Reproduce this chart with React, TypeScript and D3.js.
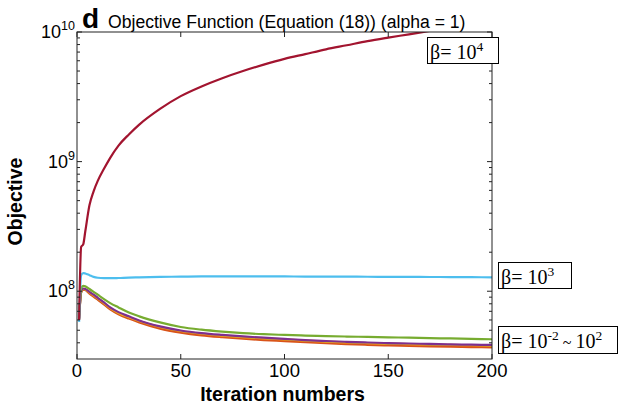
import React from "react";
import * as d3 from "d3";

const iterations = [1, 2, 3, 4, 6, 8, 10, 13, 16, 20, 25, 30, 40, 50, 60, 70, 80, 90, 100, 110, 120, 130, 140, 150, 160, 170, 180, 190, 200];

const betaM2 = [6.1e7, 9.85e7, 1.035e8, 1.025e8, 9.7e7, 9.2e7, 8.7e7, 8.0e7, 7.35e7, 6.75e7, 6.25e7, 5.85e7, 5.25e7, 4.88e7, 4.65e7, 4.5e7, 4.38e7, 4.28e7, 4.2e7, 4.12e7, 4.05e7, 3.99e7, 3.94e7, 3.9e7, 3.87e7, 3.84e7, 3.81e7, 3.79e7, 3.77e7];
const betaM1 = [6.0e7, 9.8e7, 1.03e8, 1.02e8, 9.6e7, 9.1e7, 8.6e7, 7.9e7, 7.25e7, 6.65e7, 6.15e7, 5.75e7, 5.15e7, 4.8e7, 4.57e7, 4.42e7, 4.3e7, 4.2e7, 4.12e7, 4.04e7, 3.97e7, 3.91e7, 3.86e7, 3.82e7, 3.79e7, 3.76e7, 3.73e7, 3.71e7, 3.69e7];
const beta0 = [6.15e7, 9.9e7, 1.04e8, 1.03e8, 9.8e7, 9.3e7, 8.8e7, 8.1e7, 7.4e7, 6.8e7, 6.3e7, 5.9e7, 5.3e7, 4.93e7, 4.7e7, 4.55e7, 4.43e7, 4.33e7, 4.25e7, 4.16e7, 4.09e7, 4.03e7, 3.98e7, 3.94e7, 3.91e7, 3.88e7, 3.85e7, 3.83e7, 3.81e7];
const beta1 = [6.2e7, 1.0e8, 1.05e8, 1.04e8, 9.9e7, 9.4e7, 8.9e7, 8.2e7, 7.5e7, 6.9e7, 6.4e7, 5.95e7, 5.35e7, 4.98e7, 4.75e7, 4.6e7, 4.48e7, 4.38e7, 4.29e7, 4.2e7, 4.13e7, 4.07e7, 4.02e7, 3.98e7, 3.95e7, 3.92e7, 3.89e7, 3.87e7, 3.85e7];
const beta2 = [6.5e7, 1.05e8, 1.1e8, 1.09e8, 1.04e8, 9.9e7, 9.4e7, 8.7e7, 8.1e7, 7.5e7, 6.85e7, 6.4e7, 5.75e7, 5.3e7, 5.05e7, 4.88e7, 4.75e7, 4.66e7, 4.6e7, 4.55e7, 4.51e7, 4.47e7, 4.44e7, 4.41e7, 4.38e7, 4.35e7, 4.32e7, 4.29e7, 4.26e7];
const beta3 = [5.8e7, 1.33e8, 1.38e8, 1.37e8, 1.33e8, 1.29e8, 1.27e8, 1.26e8, 1.26e8, 1.265e8, 1.275e8, 1.28e8, 1.29e8, 1.295e8, 1.3e8, 1.3e8, 1.3e8, 1.3e8, 1.3e8, 1.298e8, 1.296e8, 1.295e8, 1.293e8, 1.291e8, 1.29e8, 1.288e8, 1.286e8, 1.283e8, 1.28e8];
const beta4 = [6.0e7, 2.2e8, 2.3e8, 2.9e8, 4.6e8, 5.9e8, 7.1e8, 8.8e8, 1.07e9, 1.33e9, 1.62e9, 1.93e9, 2.55e9, 3.2e9, 3.8e9, 4.4e9, 5.0e9, 5.6e9, 6.2e9, 6.75e9, 7.35e9, 7.9e9, 8.5e9, 9.05e9, 9.6e9, 1.02e10, 1.08e10, 1.13e10, 1.19e10];

const seriesList = [
  { values: betaM2, color: "#0072BD" },
  { values: betaM1, color: "#D95319" },
  { values: beta0, color: "#EDB120" },
  { values: beta1, color: "#7E2F8E" },
  { values: beta2, color: "#77AC30" },
  { values: beta3, color: "#4DBEEE" },
  { values: beta4, color: "#A2142F" },
];

const xTicks = [0, 50, 100, 150, 200];
const yMajor = [1e8, 1e9, 1e10];
const yExponents = ["8", "9", "10"];

const W = 626;
const H = 404;
const L = 77, R = 492, T = 32, B = 359;
const SANS = "'Liberation Sans', Arial, Helvetica, sans-serif";
const SERIF = "'Liberation Serif', 'Times New Roman', serif";

export default function App() {
  const x = d3.scaleLinear().domain([0, 200]).range([L, R]);
  const y = d3.scaleLog().domain([3e7, 1e10]).range([B, T]);

  const minor: number[] = [];
  for (let e = 7; e <= 9; e++) {
    for (let m = 2; m <= 9; m++) {
      const v = m * Math.pow(10, e);
      if (v > 3e7 && v < 1e10) minor.push(v);
    }
  }

  const line = (vals: number[]) =>
    d3
      .line<number>()
      .x((_, i) => x(iterations[i]))
      .y((v) => y(v))
      .curve(d3.curveMonotoneX)(vals) || "";

  const axisColor = "#222";

  return (
    <svg width={W} height={H} style={{ position: "absolute", left: 0, top: 0, background: "#fff" }}>
      <defs>
        <clipPath id="plotclip">
          <rect x={L} y={T} width={R - L} height={B - T} />
        </clipPath>
      </defs>
      <rect x={0} y={0} width={W} height={H} fill="#fff" />

      {/* lines */}
      <g clipPath="url(#plotclip)">
        {seriesList.map((s, i) => (
          <path key={i} d={line(s.values)} fill="none" stroke={s.color} strokeWidth={2.2} strokeLinejoin="round" />
        ))}
      </g>

      {/* frame */}
      <rect x={L} y={T} width={R - L} height={B - T} fill="none" stroke={axisColor} strokeWidth={1} />

      {/* x ticks */}
      {xTicks.map((t) => (
        <g key={t}>
          <line x1={x(t)} x2={x(t)} y1={B} y2={B - 5} stroke={axisColor} />
          <line x1={x(t)} x2={x(t)} y1={T} y2={T + 5} stroke={axisColor} />
          <text x={x(t)} y={377} textAnchor="middle" fontFamily={SANS} fontSize={18.5} fill="#000">
            {t}
          </text>
        </g>
      ))}

      {/* y ticks */}
      {yMajor.map((v, i) => (
        <g key={v}>
          <line x1={L} x2={L + 5} y1={y(v)} y2={y(v)} stroke={axisColor} />
          <line x1={R} x2={R - 5} y1={y(v)} y2={y(v)} stroke={axisColor} />
          <text x={75} y={y(v) + 6} textAnchor="end" fontFamily={SANS} fontSize={18} fill="#000">
            10
            <tspan dy={-8} fontSize={12.5}>
              {yExponents[i]}
            </tspan>
          </text>
        </g>
      ))}
      {minor.map((v) => (
        <g key={v}>
          <line x1={L} x2={L + 3} y1={y(v)} y2={y(v)} stroke={axisColor} />
          <line x1={R} x2={R - 3} y1={y(v)} y2={y(v)} stroke={axisColor} />
        </g>
      ))}

      {/* axis titles */}
      <text x={(L + R) / 2 - 2} y={401} textAnchor="middle" fontFamily={SANS} fontWeight="bold" fontSize={19.5} fill="#000">
        Iteration numbers
      </text>
      <text
        transform={`translate(22, ${(T + B) / 2 + 6}) rotate(-90)`}
        textAnchor="middle"
        fontFamily={SANS}
        fontWeight="bold"
        fontSize={19.5}
        fill="#000"
      >
        Objective
      </text>

      {/* title */}
      <text x={82} y={28} fontFamily={SANS} fontWeight="bold" fontSize={28} fill="#000">
        d
      </text>
      <text x={108} y={28} fontFamily={SANS} fontSize={17.6} fill="#000">
        Objective Function (Equation (18)) (alpha = 1)
      </text>

      {/* legend boxes */}
      <rect x={427.5} y={37.5} width={71} height={26} fill="#fff" stroke="#000" strokeWidth={1} />
      <text x={430} y={58.5} fontFamily={SERIF} fontSize={20} fill="#000">
        β= 10
        <tspan dy={-8} fontSize={13.5}>4</tspan>
      </text>

      <rect x={498.5} y={262.5} width={73} height={26} fill="#fff" stroke="#000" strokeWidth={1} />
      <text x={501} y={283.5} fontFamily={SERIF} fontSize={20} fill="#000">
        β= 10
        <tspan dy={-8} fontSize={13.5}>3</tspan>
      </text>

      <rect x={498.5} y={326.5} width={119} height={27} fill="#fff" stroke="#000" strokeWidth={1} />
      <text x={501} y={347.5} fontFamily={SERIF} fontSize={20} fill="#000">
        β= 10
        <tspan dy={-8} fontSize={13.5}>-2</tspan>
        <tspan dy={8} fontSize={16}> ~ </tspan>
        <tspan fontSize={20}>10</tspan>
        <tspan dy={-8} fontSize={13.5}>2</tspan>
      </text>
    </svg>
  );
}
